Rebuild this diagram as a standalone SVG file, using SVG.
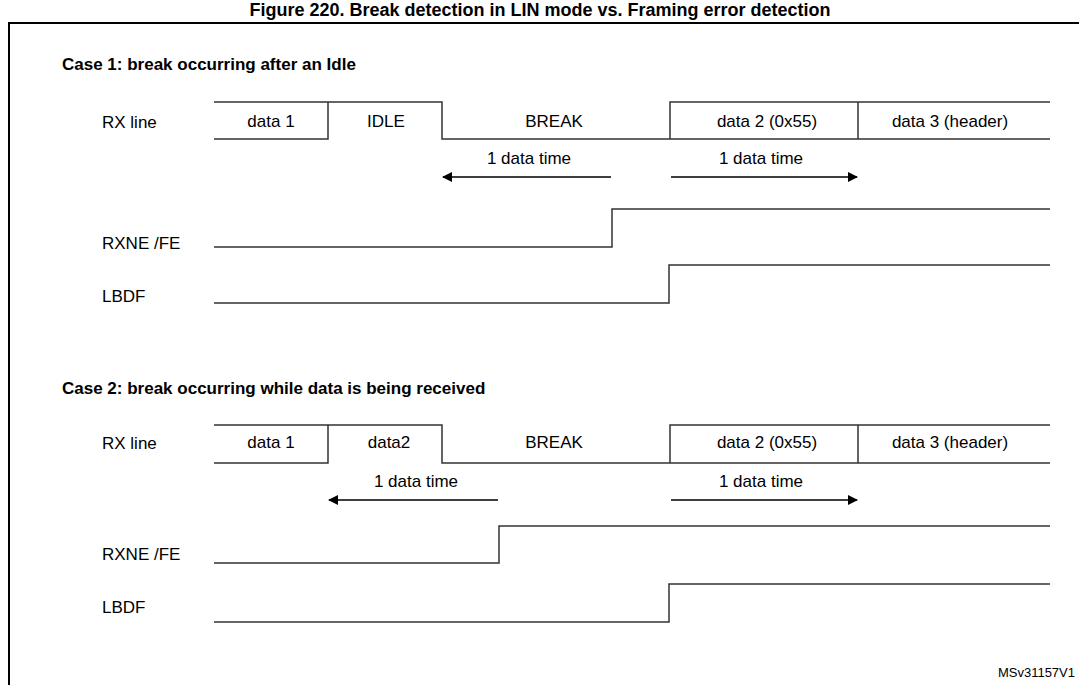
<svg xmlns="http://www.w3.org/2000/svg" width="1079" height="685" viewBox="0 0 1079 685">
<style>
text{font-family:"Liberation Sans",Arial,sans-serif;fill:#000}
.h{font-weight:bold;font-size:17px}
.t{font-size:17px}
.m{text-anchor:middle}
.w{fill:none;stroke:#333;stroke-width:1.5}
.a{fill:none;stroke:#000;stroke-width:1.5;marker-start:url(#ah);marker-end:url(#ah)}
</style>
<defs><marker id="ah" viewBox="0 0 10 10" refX="9" refY="5" markerWidth="10" markerHeight="10" orient="auto-start-reverse" markerUnits="userSpaceOnUse"><path d="M0,0 L10,5 L0,10 z" fill="#000"/></marker></defs>
<rect width="1079" height="685" fill="#fff"/>
<text x="540" y="16" class="m" style="font-weight:bold;font-size:18px">Figure 220. Break detection in LIN mode vs. Framing error detection</text>
<path d="M9,690 V23 H1085" fill="none" stroke="#000" stroke-width="2"/>
<g id="case1">
<text x="62" y="70" class="h">Case 1: break occurring after an Idle</text>
<text x="102" y="128" class="t">RX line</text>
<text x="102" y="249" class="t">RXNE /FE</text>
<text x="102" y="302" class="t">LBDF</text>
<g id="rx1" class="connectors">
<path class="w" d="M214,102 H328 V139 H214 M328,102 H442 V139 H670 V102 H1050 M670,139 H1050 M858,102 V139"/>
<text x="271" y="127" class="t m">data 1</text>
<text x="386" y="127" class="t m">IDLE</text>
<text x="554" y="127" class="t m">BREAK</text>
<text x="767" y="127" class="t m">data 2 (0x55)</text>
<text x="950" y="127" class="t m">data 3 (header)</text>
<path class="a" d="M443,177 H611 M671,177 H857"/>
<text x="529" y="164" class="t m">1 data time</text>
<text x="761" y="164" class="t m">1 data time</text>
<path class="w" d="M214,247 H612 V209 H1050 M214,303 H669 V265 H1050"/>
</g>
</g>
<g id="case2">
<text x="62" y="394" class="h">Case 2: break occurring while data is being received</text>
<text x="102" y="449" class="t">RX line</text>
<text x="102" y="560" class="t">RXNE /FE</text>
<text x="102" y="613" class="t">LBDF</text>
<g id="rx2" class="connectors">
<path class="w" d="M214,425 H328 V463 H214 M328,425 H442 V463 H670 V425 H1050 M670,463 H1050 M858,425 V463"/>
<text x="271" y="448" class="t m">data 1</text>
<text x="389" y="448" class="t m">data2</text>
<text x="554" y="448" class="t m">BREAK</text>
<text x="767" y="448" class="t m">data 2 (0x55)</text>
<text x="950" y="448" class="t m">data 3 (header)</text>
<path class="a" d="M329,500 H498 M671,500 H857"/>
<text x="416" y="487" class="t m">1 data time</text>
<text x="761" y="487" class="t m">1 data time</text>
<path class="w" d="M214,563 H499 V526 H1050 M214,622 H669 V584 H1050"/>
</g>
</g>
<text x="1075" y="677" style="font-size:13px;text-anchor:end">MSv31157V1</text>
</svg>
